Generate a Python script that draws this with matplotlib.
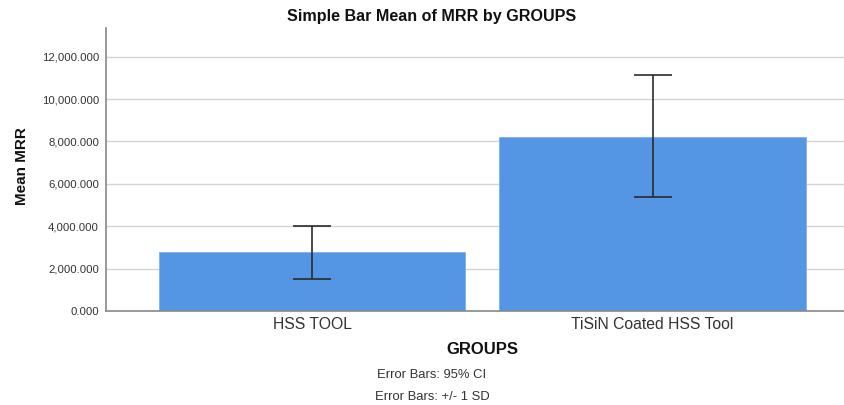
import numpy as np
import matplotlib.pyplot as plt
from matplotlib.ticker import FuncFormatter

plt.rcParams['font.family'] = ['Liberation Sans', 'DejaVu Sans']

# data
groups = ["HSS TOOL", "TiSiN Coated HSS Tool"]
mean_mrr = [2774, 8226]
err_low = [1514, 5368]
err_high = [4028, 11137]
yticks = [0, 2000, 4000, 6000, 8000, 10000, 12000]

W, H = 845, 405
fig = plt.figure(figsize=(W / 100, H / 100), dpi=100)
# axes placed in pixel coordinates
left, right, bottom, top = 106, 845, 311, 28
ax = fig.add_axes([left / W, 1 - bottom / H, (right - left) / W, (bottom - top) / H])

x = np.arange(len(groups))
mean = np.array(mean_mrr)
yerr = [mean - np.array(err_low), np.array(err_high) - mean]

ax.bar(x, mean, width=0.9, color='#5596e4', edgecolor='#7fb0ec', linewidth=0.6, zorder=2)
ax.errorbar(x, mean, yerr=yerr, fmt='none', ecolor='#2b2b2b', elinewidth=1.2,
            capsize=13.7, capthick=1.2, zorder=3)

ax.set_xlim(-0.607, 1.566)
ax.set_ylim(0, 13350)
ax.set_yticks(yticks)
ax.yaxis.set_major_formatter(FuncFormatter(lambda v, p: f"{v:,.3f}"))
ax.set_xticks(x)
ax.set_xticklabels(groups, fontsize=11.3, color='#333333')
ax.tick_params(axis='y', labelsize=8.2, length=0, pad=5, labelcolor='#333333')
ax.tick_params(axis='x', length=0, pad=4)
ax.grid(axis='y', color='#d4d4d4', linewidth=1.0, zorder=0)
ax.set_axisbelow(True)

for s in ['top', 'right']:
    ax.spines[s].set_visible(False)
ax.spines['left'].set_color('#888888')
ax.spines['bottom'].set_color('#888888')
ax.spines['left'].set_linewidth(1.2)
ax.spines['bottom'].set_linewidth(1.2)

fig.text(432 / W, 1 - 16 / H, "Simple Bar Mean of MRR by GROUPS", ha='center', va='center',
         fontsize=11.6, fontweight='bold', color='#111111')
fig.text(22 / W, 1 - 166 / H, "Mean MRR", ha='center', va='center', rotation=90,
         fontsize=11, fontweight='bold', color='#111111')
fig.text(482 / W, 1 - 349 / H, "GROUPS", ha='center', va='center',
         fontsize=12, fontweight='bold', color='#111111')
fig.text(432 / W, 1 - 375 / H, "Error Bars: 95% CI", ha='center', va='center',
         fontsize=9.4, color='#333333')
fig.text(432 / W, 1 - 397 / H, "Error Bars: +/- 1 SD", ha='center', va='center',
         fontsize=9.4, color='#333333')

fig.savefig("out.png", dpi=100, facecolor='white')
